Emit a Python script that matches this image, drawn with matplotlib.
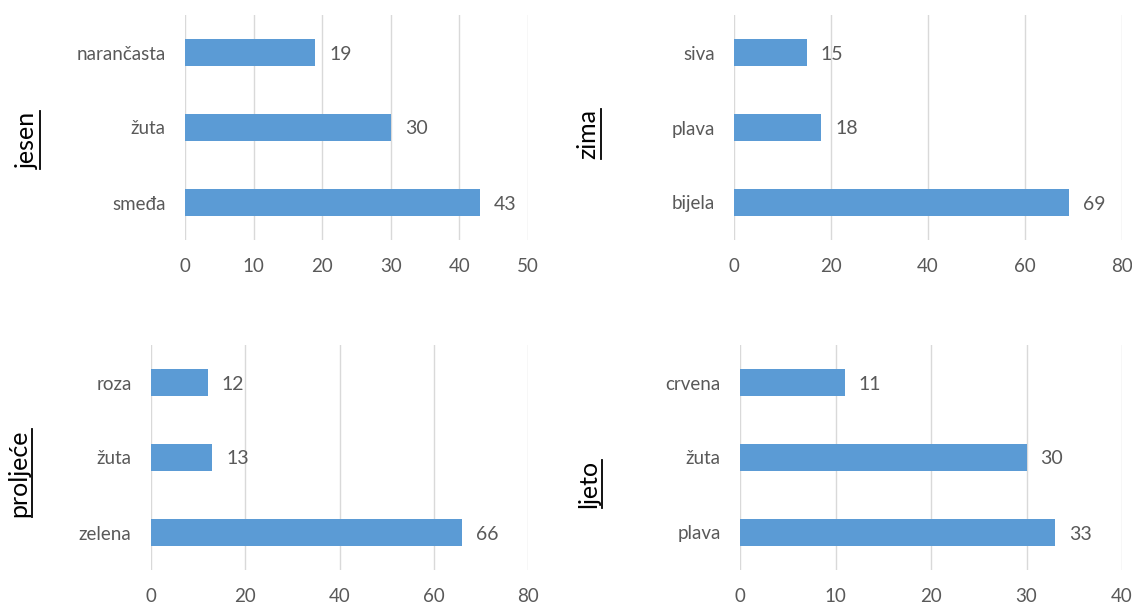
import matplotlib
matplotlib.use("Agg")
import matplotlib.pyplot as plt
from matplotlib.lines import Line2D

# ---- data ----
jesen_cats = ["smeđa", "žuta", "narančasta"]
jesen_vals = [43, 30, 19]
zima_cats = ["bijela", "plava", "siva"]
zima_vals = [69, 18, 15]
proljece_cats = ["zelena", "žuta", "roza"]
proljece_vals = [66, 13, 12]
ljeto_cats = ["plava", "žuta", "crvena"]
ljeto_vals = [33, 30, 11]

jesen_ticks = [0, 10, 20, 30, 40, 50]
zima_ticks = [0, 20, 40, 60, 80]
proljece_ticks = [0, 20, 40, 60, 80]
ljeto_ticks = [0, 10, 20, 30, 40]

titles = ["jesen", "zima", "proljeće", "ljeto"]

W, H = 1132, 604
fig = plt.figure(figsize=(W / 100, H / 100), dpi=100)
FONT = "Lato"
BAR = "#5B9BD5"
GRID = "#D9D9D9"
TXT = "#595959"
FS = 13.5


def ax_at(x0, x1, y0, y1):
    return fig.add_axes([x0 / W, 1 - y1 / H, (x1 - x0) / W, (y1 - y0) / H])


panels = [
    (ax_at(185, 528, 15, 240), jesen_cats, jesen_vals, jesen_ticks),
    (ax_at(734, 1122, 15, 240), zima_cats, zima_vals, zima_ticks),
    (ax_at(151, 528, 345, 570), proljece_cats, proljece_vals, proljece_ticks),
    (ax_at(740, 1122, 345, 570), ljeto_cats, ljeto_vals, ljeto_ticks),
]

for ax, cats, vals, ticks in panels:
    ypos = list(range(len(cats)))
    ax.barh(ypos, vals, height=0.35, color=BAR, zorder=3)
    ax.set_ylim(-0.5, len(cats) - 0.5)
    ax.set_xlim(ticks[0], ticks[-1])
    ax.set_xticks(ticks)
    ax.set_xticklabels([str(t) for t in ticks], fontsize=FS, color=TXT, family=FONT)
    ax.set_yticks(ypos)
    ax.set_yticklabels(cats, fontsize=FS, color=TXT, family=FONT)
    ax.tick_params(axis="both", length=0)
    ax.tick_params(axis="x", pad=13)
    ax.tick_params(axis="y", pad=14)
    for s in ax.spines.values():
        s.set_visible(False)
    ax.xaxis.grid(True, color=GRID, linewidth=1.0, zorder=0)
    ax.set_axisbelow(True)
    for y, v in zip(ypos, vals):
        ax.annotate(str(v), (v, y), xytext=(10, 0), textcoords="offset points",
                    ha="left", va="center_baseline", fontsize=FS + 0.5,
                    color=TXT, family=FONT)

# rotated titles with underline
title_pos = [(27, 140), (588, 134), (19, 473), (589, 484)]
texts = []
for t, (px, py) in zip(titles, title_pos):
    txt = fig.text(px / W, 1 - py / H, t, rotation=90, ha="center", va="center",
                   fontsize=18, color="black", family=FONT)
    texts.append(txt)

fig.canvas.draw()
r = fig.canvas.get_renderer()
for txt in texts:
    bb = txt.get_window_extent(r)
    x = bb.x1 + 1
    fig.add_artist(Line2D([x / W, x / W], [bb.y0 / H, bb.y1 / H],
                          transform=fig.transFigure, color="black", linewidth=1.3))

fig.savefig("out.png", dpi=100)
